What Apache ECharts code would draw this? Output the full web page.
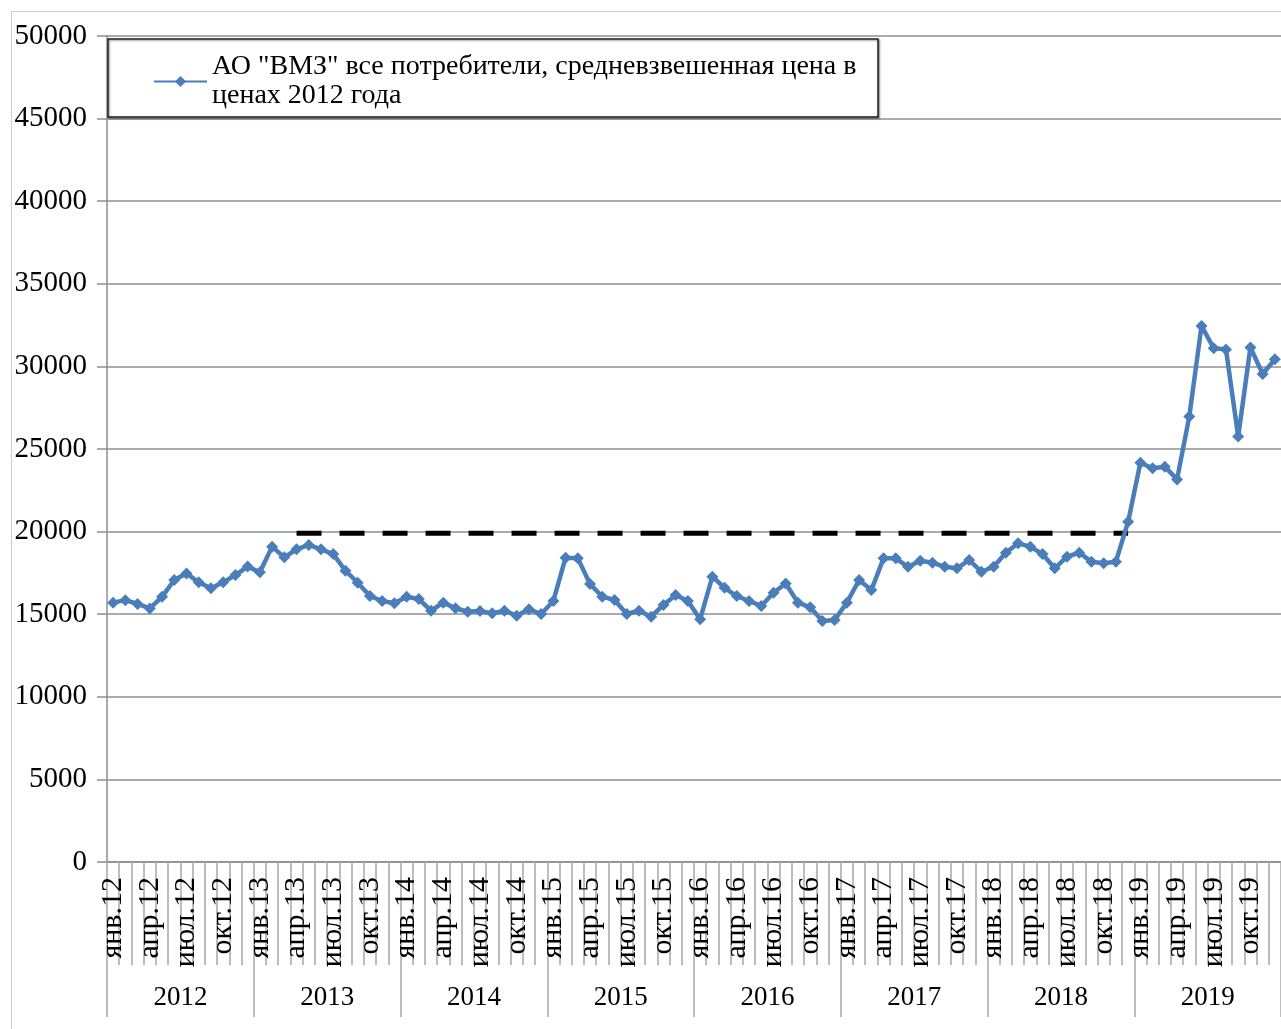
<!DOCTYPE html>
<html>
<head>
<meta charset="utf-8">
<script src="https://cdn.jsdelivr.net/npm/echarts@6/dist/echarts.min.js"></script>
<style>
html,body{margin:0;padding:0;background:#fff;}
#chart{width:1281px;height:1029px;}
</style>
</head>
<body>
<div id="chart"></div>
<script>
// ---- data ----
const monthNames = ['янв', 'фев', 'мар', 'апр', 'май', 'июн', 'июл', 'авг', 'сен', 'окт', 'ноя', 'дек'];
const years = ['2012', '2013', '2014', '2015', '2016', '2017', '2018', '2019'];
const seriesName = 'АО "ВМЗ" все потребители, средневзвешенная цена в ценах 2012 года';
const prices = [
  15700, 15850, 15620, 15350, 16050, 17070, 17470, 16930, 16570, 16930, 17370, 17880,
  17540, 19090, 18440, 18930, 19190, 18930, 18640, 17630, 16910, 16100, 15800, 15660,
  16060, 15920, 15210, 15700, 15360, 15150, 15190, 15050, 15210, 14910, 15300, 15010,
  15800, 18420, 18380, 16830, 16060, 15860, 15010, 15210, 14850, 15560, 16160, 15800,
  14690, 17270, 16600, 16100, 15800, 15500, 16300, 16860, 15700, 15420, 14590, 14650,
  15700, 17070, 16460, 18380, 18380, 17870, 18240, 18120, 17870, 17780, 18280, 17570,
  17870, 18720, 19290, 19090, 18640, 17780, 18480, 18720, 18180, 18080, 18180, 20600,
  24170, 23830, 23930, 23160, 26960, 32450, 31100, 31030, 25750, 31150, 29540, 30430
];
const levelValue = 19900;
const levelFrom = 'апр.13';
const levelTo = 'дек.18';
const yTicks = [0, 5000, 10000, 15000, 20000, 25000, 30000, 35000, 40000, 45000, 50000];

// ---- derived ----
const categories = [];
years.forEach(y => monthNames.forEach(m => categories.push(m + '.' + y.slice(2))));
const iFrom = categories.indexOf(levelFrom), iTo = categories.indexOf(levelTo);
const levelData = categories.map((c, i) => (i >= iFrom && i <= iTo) ? levelValue : null);

const FONT = 'Liberation Serif';
const GRID_C = '#8f8f8f';

const chart = echarts.init(document.getElementById('chart'));
chart.setOption({
  animation: false,
  backgroundColor: '#fff',
  grid: { left: 107, right: 0, top: 36, bottom: 167, containLabel: false },
  legend: {
    data: [seriesName],
    left: 153, top: 38,
    padding: 0,
    itemWidth: 53, itemHeight: 14,
    formatter: () => 'АО "ВМЗ" все потребители, средневзвешенная цена в\nценах 2012 года',
    textStyle: { fontFamily: FONT, fontSize: 28, lineHeight: 29, color: '#000', padding: [29, 0, 0, 0] },
    z: 5
  },
  graphic: [
    { type: 'rect', z: 0, silent: true, shape: { x: 11.5, y: 11.5, width: 1400, height: 1200 },
      style: { fill: 'none', stroke: '#9a9a9a', lineWidth: 1, lineDash: [1, 1] } },
    { type: 'rect', z: 3, silent: true, shape: { x: 108, y: 39, width: 770, height: 78 },
      style: { fill: '#fff', stroke: '#222', lineWidth: 1.5, shadowColor: 'rgba(0,0,0,0.45)', shadowBlur: 2, shadowOffsetX: 1, shadowOffsetY: 1 } }
  ],
  xAxis: [
    {
      type: 'category', data: categories, position: 'bottom', boundaryGap: true,
      axisLine: { show: true, lineStyle: { color: GRID_C, width: 1.5 } },
      axisTick: { show: true, interval: 0, length: 103, lineStyle: { color: '#a8a8a8', width: 1.5 } },
      axisLabel: { interval: 2, rotate: 90, margin: 15, fontFamily: FONT, fontSize: 30, color: '#000' }
    },
    {
      type: 'category', data: years, position: 'bottom', boundaryGap: true,
      axisLine: { show: false },
      axisTick: { show: true, interval: 0, length: 155, lineStyle: { color: '#a8a8a8', width: 1.5 } },
      axisLabel: { interval: 0, margin: 122, fontFamily: FONT, fontSize: 27, color: '#000' }
    }
  ],
  yAxis: {
    type: 'value', min: yTicks[0], max: yTicks[yTicks.length - 1], interval: yTicks[1] - yTicks[0],
    axisLine: { show: true, lineStyle: { color: GRID_C, width: 1.5 } },
    axisTick: { show: true, length: 10, lineStyle: { color: GRID_C, width: 1.5 } },
    axisLabel: { margin: 20, fontFamily: FONT, fontSize: 29, color: '#000', formatter: v => String(v) },
    splitLine: { show: true, lineStyle: { color: GRID_C, width: 1.5 } }
  },
  series: [
    {
      name: seriesName, type: 'line', data: prices, xAxisIndex: 0,
      symbol: 'diamond', symbolSize: 12, showSymbol: true, showAllSymbol: true,
      lineStyle: { color: '#4a7ebb', width: 4.5 },
      itemStyle: { color: '#4a7ebb' },
      z: 3
    },
    {
      name: 'level', type: 'line', data: levelData, xAxisIndex: 0,
      symbol: 'none', connectNulls: false,
      lineStyle: { color: '#000', width: 5, type: [25, 18], cap: 'butt' },
      z: 2
    }
  ]
});
</script>
</body>
</html>
